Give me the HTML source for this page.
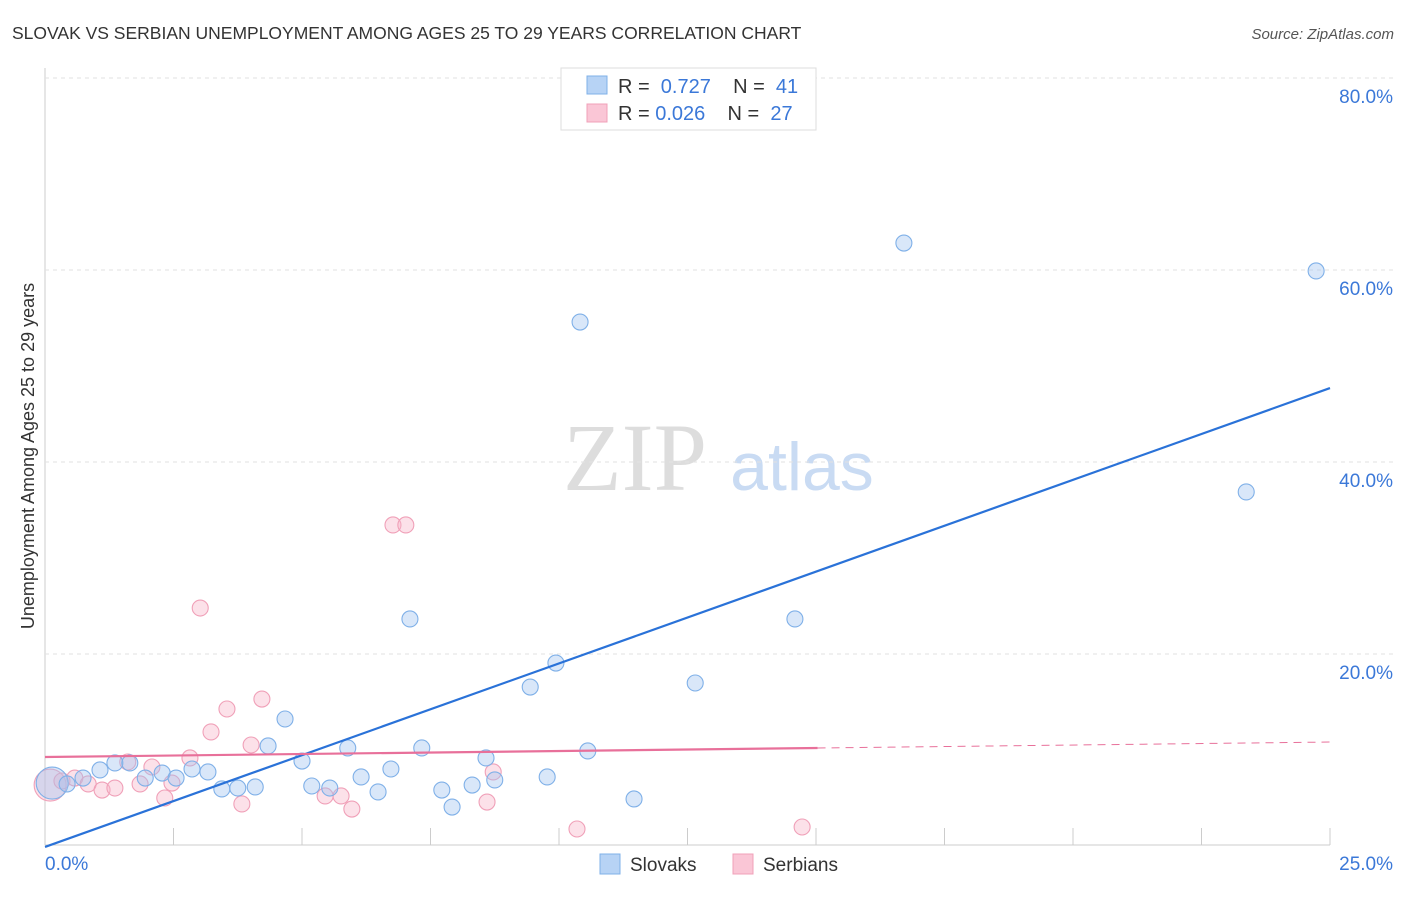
<!DOCTYPE html>
<html><head><meta charset="utf-8"><style>
body{margin:0;background:#fff;font-family:"Liberation Sans",sans-serif;}
</style></head><body>
<svg id="c" width="1406" height="892" xmlns="http://www.w3.org/2000/svg" font-family="Liberation Sans, sans-serif">
<text x="12" y="39" font-size="17.5" fill="#333">SLOVAK VS SERBIAN UNEMPLOYMENT AMONG AGES 25 TO 29 YEARS CORRELATION CHART</text>
<text x="1394" y="39" font-size="15" fill="#555" font-style="italic" text-anchor="end">Source: ZipAtlas.com</text>
<text x="635" y="490" font-size="96" fill="#ddd" style="font-family:'Liberation Serif',serif" text-anchor="middle">ZIP</text>
<text x="802" y="490" font-size="68" fill="#c9dbf3" text-anchor="middle">atlas</text>
<text transform="translate(34,456) rotate(-90)" font-size="18" fill="#333" text-anchor="middle">Unemployment Among Ages 25 to 29 years</text>
<g id="grid"></g><g id="pts"></g><g id="lines"></g>
<g>
<rect x="561" y="68" width="255" height="62" fill="#fff" stroke="#ddd"/>
<rect x="587" y="76" width="20" height="18" fill="#b7d3f5" stroke="#7fb0e8"/>
<text x="618" y="93" font-size="20" fill="#333" xml:space="preserve">R =  <tspan fill="#3b78d8">0.727</tspan>    N =  <tspan fill="#3b78d8">41</tspan></text>
<rect x="587" y="104" width="20" height="18" fill="#fac6d6" stroke="#f0a0b8"/>
<text x="618" y="120" font-size="20" fill="#333" xml:space="preserve">R = <tspan fill="#3b78d8">0.026</tspan>    N =  <tspan fill="#3b78d8">27</tspan></text>
</g>
<g>
<rect x="600" y="854" width="20" height="20" fill="#b7d3f5" stroke="#7fb0e8"/>
<text x="630" y="871" font-size="19" fill="#333">Slovaks</text>
<rect x="733" y="854" width="20" height="20" fill="#fac6d6" stroke="#f0a0b8"/>
<text x="763" y="871" font-size="19" fill="#333">Serbians</text>
</g>
</svg>
<script>
const blueX=[0.14,0.43,0.74,1.07,1.36,1.65,1.95,2.28,2.55,2.86,3.17,3.44,3.75,4.09,4.34,4.67,5.00,5.19,5.54,5.89,6.15,6.48,6.73,7.10,7.33,7.72,7.92,8.31,8.58,8.75,9.44,9.77,9.94,10.41,10.56,11.46,12.65,14.59,16.71,23.37,24.73];
const blueY=[6.56,6.46,7.08,7.92,8.65,8.65,7.08,7.60,7.08,8.02,7.71,5.94,6.04,6.15,10.42,13.23,8.85,6.25,6.04,10.21,7.19,5.63,8.02,23.65,10.21,5.83,4.06,6.35,9.17,6.88,16.56,7.19,19.06,54.58,9.90,4.90,16.98,23.65,62.81,36.88,59.90];
const pinkX=[0.10,0.33,0.58,0.84,1.11,1.36,1.61,1.85,2.08,2.33,2.47,2.82,3.02,3.23,3.54,3.83,4.01,4.22,5.45,5.76,5.97,6.77,7.02,8.60,8.72,10.35,14.73];
const pinkY=[6.35,6.77,7.08,6.46,5.83,6.04,8.75,6.46,8.23,5.00,6.56,9.17,24.79,11.88,14.27,4.38,10.52,15.31,5.21,5.21,3.85,33.44,33.44,4.58,7.71,1.77,1.98];
const yTicks=[20,40,60,80];
const xTickLabels=["0.0%","25.0%"];
const blueTrend=[-0.1,47.7];
const pinkTrend=[9.27,10.83];
const pinkSolidEnd=15.03;
const NS='http://www.w3.org/2000/svg';
const X=v=>45+v*1285/25, Y=v=>846-v*9.6;
function mk(t,a,p){const e=document.createElementNS(NS,t);for(const k in a)e.setAttribute(k,a[k]);document.getElementById(p).appendChild(e);return e;}
let e=mk('line',{x1:45,y1:68,x2:45,y2:845,stroke:'#ccc'},'grid');


e=mk('line',{x1:45,y1:845,x2:1330,y2:845,stroke:'#ccc'},'grid');


for(let i=0;i<=10;i++){e=mk('line',{x1:X(i*2.5),y1:828,x2:X(i*2.5),y2:845,stroke:'#ccc'},'grid');

}
yTicks.forEach(t=>{e=mk('line',{x1:45,y1:Y(t),x2:1393,y2:Y(t),stroke:'#e2e2e2','stroke-dasharray':'4,4'},'grid');


e=mk('text',{x:1393,y:Y(t)+25,'font-size':19,fill:'#3b78d8','text-anchor':'end'},'grid');e.textContent=t.toFixed(1)+'%';

});
e=mk('text',{x:45,y:870,'font-size':19,fill:'#3b78d8'},'grid');e.textContent=xTickLabels[0];


e=mk('text',{x:1393,y:870,'font-size':19,fill:'#3b78d8','text-anchor':'end'},'grid');e.textContent=xTickLabels[1];


pinkX.forEach((x,i)=>{e=mk('circle',{cx:X(x),cy:Y(pinkY[i]),r:i==0?16:8,fill:'rgba(248,180,200,0.4)',stroke:'#f0a0b8','stroke-width':1.1},'pts');

});
blueX.forEach((x,i)=>{e=mk('circle',{cx:X(x),cy:Y(blueY[i]),r:i==0?16:8,fill:'rgba(160,196,240,0.4)',stroke:'#7fb0e8','stroke-width':1.1},'pts');

});
e=mk('line',{x1:X(0),y1:Y(blueTrend[0]),x2:X(25),y2:Y(blueTrend[1]),stroke:'#2a72d8','stroke-width':2.2},'lines');


const pm=pinkTrend[0]+(pinkTrend[1]-pinkTrend[0])*pinkSolidEnd/25;
e=mk('line',{x1:X(0),y1:Y(pinkTrend[0]),x2:X(pinkSolidEnd),y2:Y(pm),stroke:'#e8709a','stroke-width':2.2},'lines');


e=mk('line',{x1:X(pinkSolidEnd),y1:Y(pm),x2:X(25),y2:Y(pinkTrend[1]),stroke:'#e8709a','stroke-width':1,'stroke-dasharray':'8,6'},'lines');


</script>
</body></html>
